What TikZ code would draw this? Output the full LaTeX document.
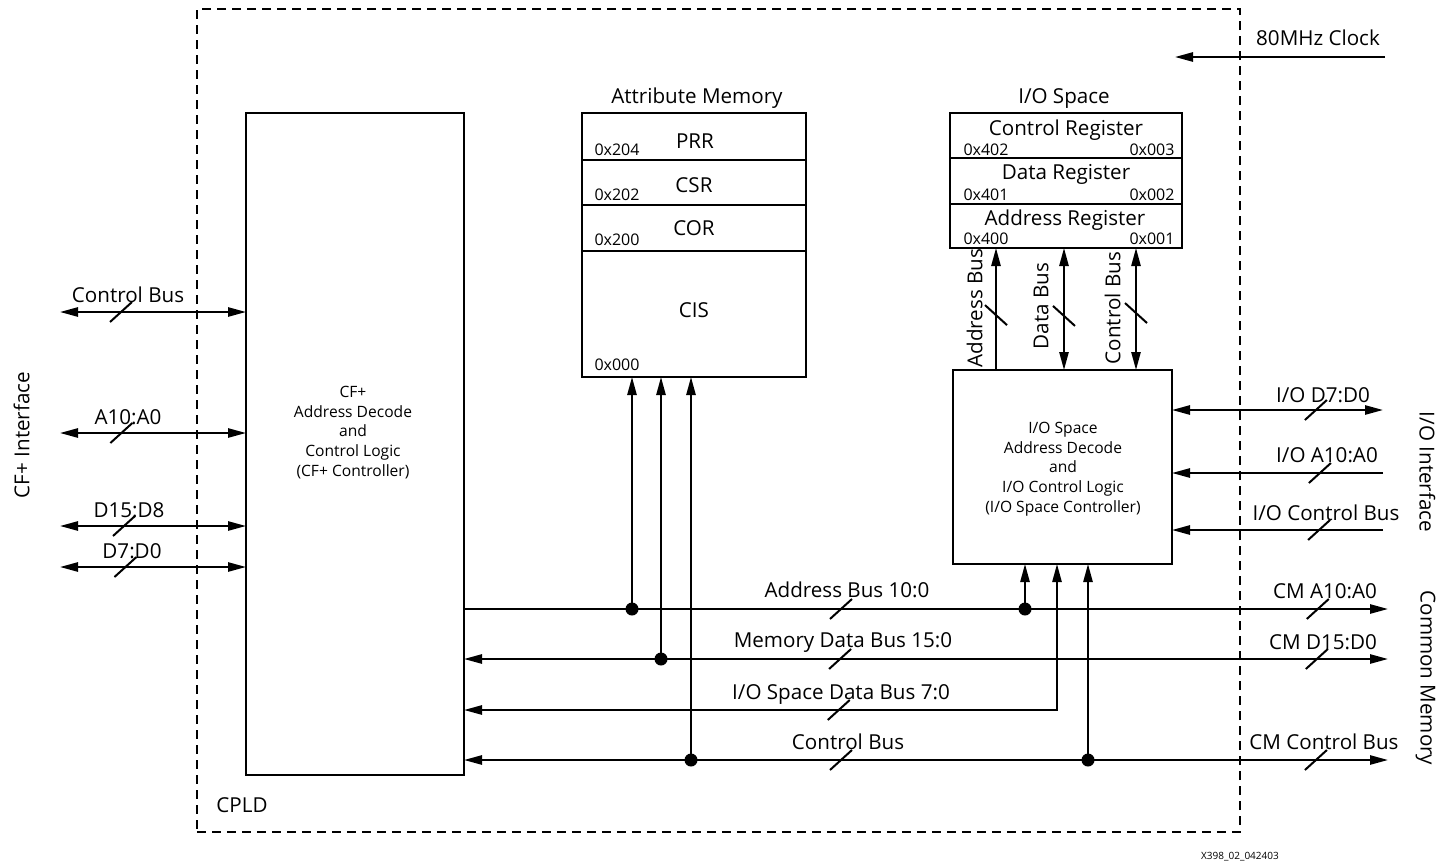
\documentclass[tikz,border=0pt]{standalone}
\usepackage{fontspec}
\setmainfont{Open Sans}
\usetikzlibrary{arrows.meta}
\newcommand{\busmarkH}[1]{\draw[slashmk] (#1) ++(-11,10) -- ++(22,-20);}
\newcommand{\busmarkV}[1]{\draw[slashmk] (#1) ++(-11,-10) -- ++(22,20);}
\tikzset{
  bx/.style={draw, line width=1pt, inner sep=0pt, outer sep=0pt},
  bus/.style={line width=1pt},
  slashmk/.style={line width=1pt},
  dot/.style={circle, fill, inner sep=0pt, minimum size=6.5pt},
  lbl/.style={font=\fontsize{10.3}{12}\selectfont, inner sep=0pt, text height=7.35pt, text depth=0pt},
  sml/.style={font=\fontsize{7.8}{9.85}\selectfont, inner sep=0pt, align=center},
  hex/.style={font=\fontsize{8}{9}\selectfont, inner sep=0pt, text height=5.7pt, text depth=0pt},
  >={Triangle[length=9pt,width=4.6pt]}
}
\begin{document}
\begin{tikzpicture}[x=0.5pt,y=-0.5pt]
\useasboundingbox (0,0) rectangle (1453,868);

% CPLD dashed boundary
\node[bx, dash pattern=on 4.5pt off 3pt, minimum width=521.5pt, minimum height=411.5pt] (cpld) at (718.5,420.5) {};
\node[lbl] (cpldt) at (242,805) {CPLD};

% CF+ controller
\node[bx, minimum width=109pt, minimum height=331pt] (cf) at (355,444) {};
\node[sml] (cft) at (353,432.5) {CF+\\Address Decode\\and\\Control Logic\\(CF+ Controller)};

% Attribute memory
\node[lbl] (amt) at (697,96) {Attribute Memory};
\node[bx, minimum width=112pt, minimum height=23.5pt] (prr) at (694,136.5) {};
\node[bx, minimum width=112pt, minimum height=22.5pt] (csr) at (694,182.5) {};
\node[bx, minimum width=112pt, minimum height=23pt] (cor) at (694,228) {};
\node[bx, minimum width=112pt, minimum height=63pt] (cis) at (694,314) {};
\node[lbl] (prrt) at (695,141) {PRR};
\node[lbl] (csrt) at (694,185) {CSR};
\node[lbl] (cort) at (694,228) {COR};
\node[lbl] (cist) at (694,310) {CIS};
\node[hex] (h204) at (617,150) {0x204};
\node[hex] (h202) at (617,195) {0x202};
\node[hex] (h200) at (617,240) {0x200};
\node[hex] (h000) at (617,365) {0x000};

% I/O space
\node[lbl] (iost) at (1064,96) {I/O Space};
\node[bx, minimum width=116pt, minimum height=22.5pt] (ctrl) at (1066,135.5) {};
\node[bx, minimum width=116pt, minimum height=23pt] (data) at (1066,181) {};
\node[bx, minimum width=116pt, minimum height=22pt] (addr) at (1066,226) {};
\node[lbl] (ctrlt) at (1066,128) {Control Register};
\node[lbl] (datat) at (1066,172) {Data Register};
\node[lbl] (addrt) at (1065,218) {Address Register};
\node[hex] (h402) at (986,150) {0x402};
\node[hex] (h003) at (1152,150) {0x003};
\node[hex] (h401) at (986,195) {0x401};
\node[hex] (h002) at (1152,195) {0x002};
\node[hex] (h400) at (986,239) {0x400};
\node[hex] (h001) at (1152,239) {0x001};

% I/O controller
\node[bx, minimum width=109.5pt, minimum height=97pt] (ioc) at (1062.5,467) {};
\node[sml] (ioct) at (1063,469) {I/O Space\\Address Decode\\and\\I/O Control Logic\\(I/O Space Controller)};

% free ends and junction points
\coordinate (lcb) at (60,312);
\coordinate (la) at (60,433);
\coordinate (ld8) at (60,526);
\coordinate (ld0) at (60,567);
\coordinate (clk) at (1385,57);
\coordinate (clkE) at (1175,57);
\coordinate (rio0) at (1383,410);
\coordinate (rioa) at (1383,473);
\coordinate (rioc) at (1383,530);
\coordinate (rA) at (1388,609);
\coordinate (rD) at (1388,659);
\coordinate (rC) at (1388,760);
\coordinate (yIO) at (0,710);
\coordinate (j1) at (632,609);
\coordinate (j2) at (661,659);
\coordinate (j3) at (691,760);
\coordinate (j4) at (1025,609);
\coordinate (j5) at (1088,760);
\coordinate (xio) at (1057,0);
\coordinate (xab) at (996,0);
\coordinate (xdb) at (1064,0);
\coordinate (xcb) at (1136,0);

% left CF+ interface buses
\draw[bus,<->] (lcb) -- coordinate[pos=0.328] (s1) (cf.west |- lcb);
\draw[bus,<->] (la) -- coordinate[pos=0.33] (s2) (cf.west |- la);
\draw[bus,<->] (ld8) -- coordinate[pos=0.344] (s3) (cf.west |- ld8);
\draw[bus,<->] (ld0) -- coordinate[pos=0.352] (s4) (cf.west |- ld0);
\busmarkH{s1}\busmarkH{s2}\busmarkH{s3}\busmarkH{s4}
\node[lbl] (l1) at (128,295) {Control Bus};
\node[lbl] (l2) at (128,417) {A10:A0};
\node[lbl] (l3) at (129,510) {D15:D8};
\node[lbl] (l4) at (132,551) {D7:D0};
\node[lbl, rotate=90] (cfi) at (22,435) {CF+ Interface};

% clock
\draw[bus,->] (clk) -- (clkE);
\node[lbl] (clkt) at (1318,38) {80MHz Clock};

% I/O interface buses
\draw[bus,<->] (rio0) -- coordinate[pos=0.318] (s5) (ioc.east |- rio0);
\draw[bus,->] (rioa) -- coordinate[pos=0.299] (s6) (ioc.east |- rioa);
\draw[bus,->] (rioc) -- coordinate[pos=0.303] (s7) (ioc.east |- rioc);
\busmarkH{s5}\busmarkH{s6}\busmarkH{s7}
\node[lbl] (r1) at (1323,395) {I/O D7:D0};
\node[lbl] (r2) at (1327,455) {I/O A10:A0};
\node[lbl] (r3) at (1326,513) {I/O Control Bus};
\node[lbl, rotate=-90] (ioi) at (1427,472) {I/O Interface};

% I/O space internal buses
\draw[bus,->] (ioc.north -| xab) -- coordinate[pos=0.45] (v1) (addr.south -| xab);
\draw[bus,<->] (ioc.north -| xdb) -- coordinate[pos=0.443] (v2) (addr.south -| xdb);
\draw[bus,<->] (ioc.north -| xcb) -- coordinate[pos=0.467] (v3) (addr.south -| xcb);
\busmarkV{v1}\busmarkV{v2}\busmarkV{v3}
\node[lbl, rotate=90] (vl1) at (975,308) {Address Bus};
\node[lbl, rotate=90] (vl2) at (1041,306) {Data Bus};
\node[lbl, rotate=90] (vl3) at (1113,308) {Control Bus};

% internal buses
\draw[bus,->] (cf.east |- rA) -- coordinate[pos=0.408] (b1) coordinate[pos=0.924] (c1) (rA);
\draw[bus,<->] (cf.east |- rD) -- coordinate[pos=0.407] (b2) coordinate[pos=0.923] (c2) (rD);
\draw[bus,<->] (ioc.south -| xio) |- coordinate[pos=0.684] (b3) (cf.east |- yIO);
\draw[bus,<->] (cf.east |- rC) -- coordinate[pos=0.408] (b4) coordinate[pos=0.922] (c4) (rC);
\busmarkH{b1}\busmarkH{b2}\busmarkH{b3}\busmarkH{b4}
\busmarkH{c1}\busmarkH{c2}\busmarkH{c4}

\draw[bus,->] (j1) -- (cis.south -| j1);
\draw[bus,->] (j2) -- (cis.south -| j2);
\draw[bus,->] (j3) -- (cis.south -| j3);
\draw[bus,->] (j4) -- (ioc.south -| j4);
\draw[bus,->] (j5) -- (ioc.south -| j5);
\node[dot] (d1) at (j1) {};
\node[dot] (d2) at (j2) {};
\node[dot] (d3) at (j3) {};
\node[dot] (d4) at (j4) {};
\node[dot] (d5) at (j5) {};

\node[lbl] (m1) at (847,590) {Address Bus 10:0};
\node[lbl] (m2) at (843,640) {Memory Data Bus 15:0};
\node[lbl] (m3) at (841,692) {I/O Space Data Bus 7:0};
\node[lbl] (m4) at (848,742) {Control Bus};
\node[lbl] (cm1) at (1325,591) {CM A10:A0};
\node[lbl] (cm2) at (1323,642) {CM D15:D0};
\node[lbl] (cm3) at (1324,742) {CM Control Bus};
\node[lbl, rotate=-90] (cmt) at (1428,678) {Common Memory};

\node[font=\fontsize{5}{6}\selectfont, inner sep=0pt] (foot) at (1240,857) {X398\_02\_042403};
\end{tikzpicture}
\end{document}
